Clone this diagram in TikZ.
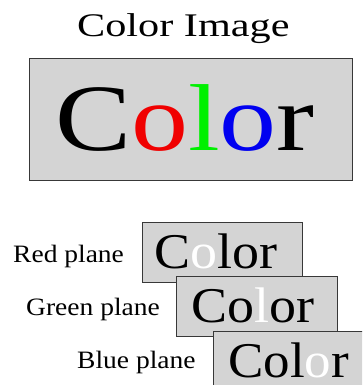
\documentclass[tikz,border=0pt]{standalone}
\usepackage{fontspec}
\setmainfont{Liberation Serif}
\usepackage{xcolor}
\definecolor{planegray}{HTML}{D4D4D4}
\definecolor{frameline}{HTML}{383838}
\definecolor{pixred}{HTML}{F00000}
\definecolor{pixgreen}{HTML}{00F000}
\definecolor{pixblue}{HTML}{0000F0}
\usepackage{tikz}
\usetikzlibrary{positioning}
\tikzset{
  imagebox/.style={
    rectangle, draw=frameline, fill=planegray, line width=0.9pt,
    anchor=north west, inner sep=0pt
  },
  wordlabel/.style={anchor=base west, inner sep=0pt, text=black}
}
\newcommand{\stretchtext}[3]{\scalebox{#1}[1]{\fontsize{#2}{#2}\selectfont #3}}

\begin{document}
\begin{tikzpicture}[x=1pt, y=-1pt]
\useasboundingbox (0,0) rectangle (362,385);
\clip (0,0) rectangle (362,385);

% ── Title and the full colour image ──────────────────────────────────────────
\node[wordlabel] (title) at (77,37) {\stretchtext{1.28}{33}{Color Image}};
\node[imagebox, minimum width=323pt, minimum height=122pt] (colorbox) at (29,58) {};
\node[wordlabel] (colorword) at (55,150)
  {\stretchtext{1.2}{95}{C\textcolor{pixred}{o}\textcolor{pixgreen}{l}\textcolor{pixblue}{o}r}};

% ── Red plane (y=222) ────────────────────────────────────────────────────────
\node[wordlabel] (redlabel) at (13,262) {\stretchtext{1.1}{25}{Red plane}};
\node[imagebox, minimum width=160pt, minimum height=60pt] (redbox) at (142,222) {};
\node[wordlabel] (redword) at (154,268)
  {\stretchtext{1.08}{50}{C\textcolor{white}{o}lor}};

% ── Green plane (y=276) ──────────────────────────────────────────────────────
\node[wordlabel] (greenlabel) at (26,315) {\stretchtext{1.1}{25}{Green plane}};
\node[imagebox, minimum width=161pt, minimum height=60pt] (greenbox) at (176,276) {};
\node[wordlabel] (greenword) at (191,322)
  {\stretchtext{1.08}{50}{Co\textcolor{white}{l}or}};

% ── Blue plane (y=331, runs off the page edge) ───────────────────────────────
\node[wordlabel] (bluelabel) at (77,368) {\stretchtext{1.1}{25}{Blue plane}};
\node[imagebox, minimum width=170pt, minimum height=70pt] (bluebox) at (213,331) {};
\node[wordlabel] (blueword) at (228,377)
  {\stretchtext{1.06}{50}{Col\textcolor{white}{o}r}};

\end{tikzpicture}
\end{document}
